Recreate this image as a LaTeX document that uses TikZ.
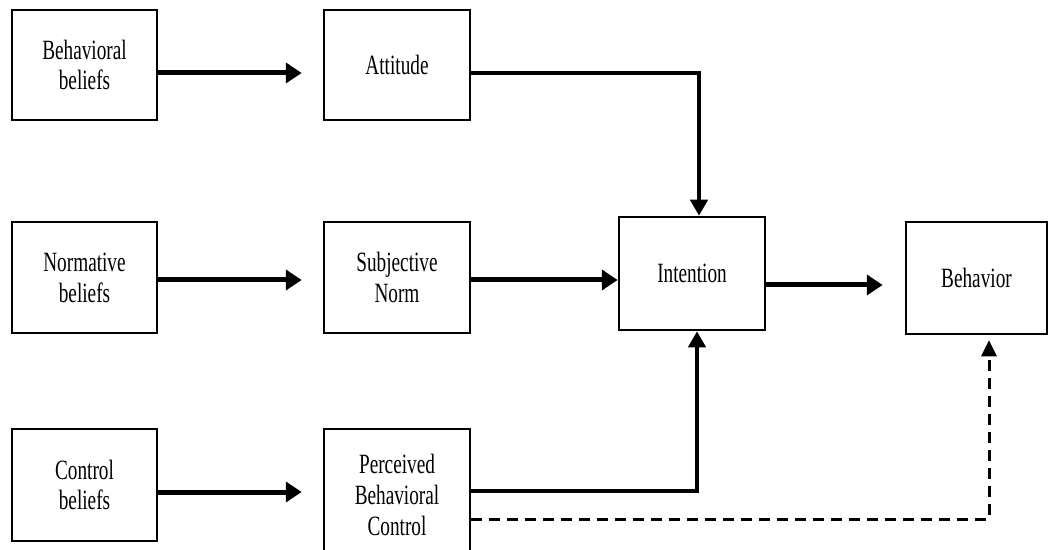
\documentclass[tikz,border=0pt]{standalone}
\usepackage{fontspec}
\setmainfont[FakeStretch=0.69]{Liberation Serif}
\usetikzlibrary{arrows.meta}
\begin{document}
\begin{tikzpicture}[x=1bp,y=-1bp,
  box/.style={draw, line width=2.5bp, rectangle, inner sep=0pt, align=center,
    font=\fontsize{28}{31}\selectfont},
  arr/.style={line width=5bp, -{Triangle[length=16bp,width=20bp]}},
  elarr/.style={line width=4bp, -{Triangle[length=16bp,width=17bp]}},
  darr/.style={line width=3bp, dash pattern=on 11bp off 7bp, -{Triangle[length=16bp,width=15bp]}}]
\useasboundingbox (0,0) rectangle (1049,550);
\clip (0,0) rectangle (1049,550);
\node[box, minimum width=145bp, minimum height=110bp] (bb) at (84.5,65) {Behavioral\\beliefs};
\node[box, minimum width=146bp, minimum height=110bp] (att) at (397,65) {Attitude};
\node[box, minimum width=145bp, minimum height=111bp] (nb) at (84.5,277.5) {Normative\\beliefs};
\node[box, minimum width=146bp, minimum height=111bp] (sn) at (397,277.5) {Subjective\\Norm};
\node[box, minimum width=145bp, minimum height=112bp] (cb) at (84.5,485) {Control\\beliefs};
\node[box, minimum width=146bp, minimum height=132bp] (pbc) at (397,495) {Perceived\\Behavioral\\Control};
\node[box, minimum width=146bp, minimum height=113bp] (int) at (692,273.5) {Intention};
\node[box, minimum width=141bp, minimum height=112bp] (beh) at (976.5,278) {Behavior};
% coordinates on the node borders
\coordinate (b1) at ([yshift=-8bp]bb.east);
\coordinate (n1) at ([yshift=-2.5bp]nb.east);
\coordinate (c1) at ([yshift=-7bp]cb.east);
\coordinate (a1) at ([yshift=-8bp]att.east);
\coordinate (s1) at ([yshift=-2.5bp]sn.east);
\coordinate (p1) at ([yshift=4bp]pbc.east);
\coordinate (p2) at ([yshift=-24bp]pbc.east);
\coordinate (i1) at ([yshift=-11.5bp]int.east);
% connectors
\draw[arr, shorten >=21bp] (b1) -- (b1 -| att.west);
\draw[arr, shorten >=21bp] (n1) -- (n1 -| sn.west);
\draw[arr, shorten >=21bp] (c1) -- (c1 -| pbc.west);
\draw[elarr] (a1) -| ([xshift=7bp]int.north);
\draw[arr] (s1) -- (s1 -| int.west);
\draw[elarr] (p1) -| ([xshift=5bp]int.south);
\draw[arr, shorten >=22bp] (i1) -- (i1 -| beh.west);
\draw[darr, shorten >=5bp] (p2) -| ([xshift=12.5bp]beh.south);
\end{tikzpicture}
\end{document}
